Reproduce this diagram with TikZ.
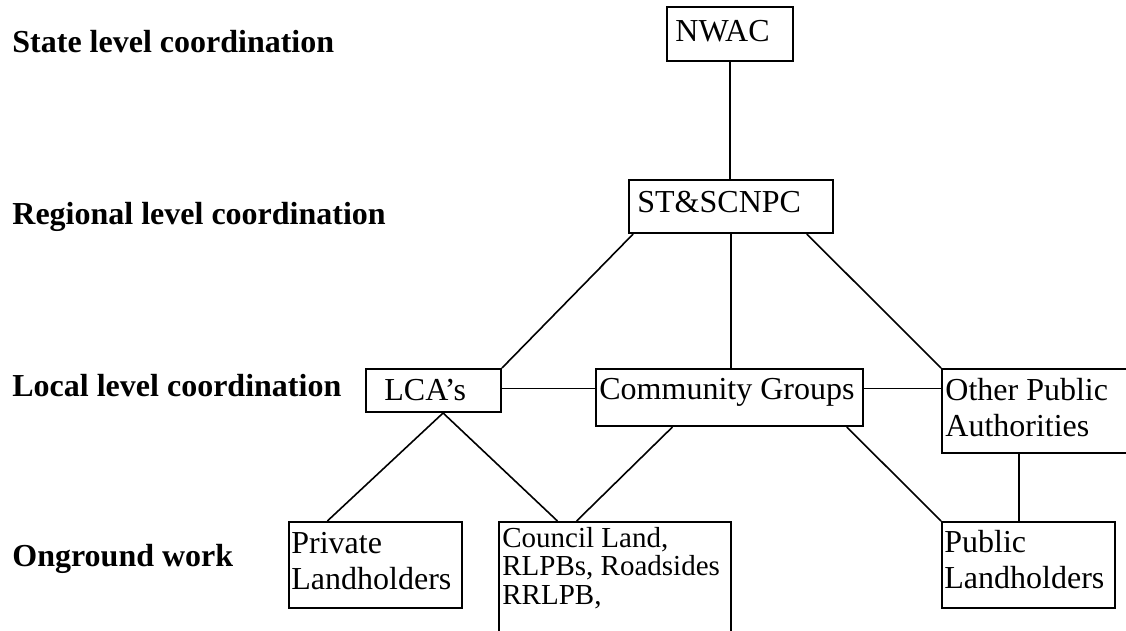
\documentclass[tikz,border=0pt]{standalone}
\usepackage{fontspec}
\setmainfont{Liberation Serif}
\usepackage{tikz}
\usetikzlibrary{calc}
\tikzstyle{box}=[rectangle, draw=black, line width=1pt, inner sep=0pt, anchor=center]
\tikzstyle{annot}=[align=left, inner sep=0pt, anchor=base west, font=\fontsize{16}{18}\selectfont]
\tikzstyle{level}=[annot, font=\fontsize{16}{18}\selectfont\bfseries]
\tikzstyle{link}=[line width=0.8pt]

\begin{document}
\begin{tikzpicture}[x=0.5pt, y=-0.5pt]
	\useasboundingbox (0,0) rectangle (1126,631);
	\clip (0,0) rectangle (1126,631);

	% levels
	\node[level] (statelbl) at (12,53) {State level coordination};
	\node[level] (reglbl) at (12,225) {Regional level coordination};
	\node[level] (loclbl) at (12,396) {Local level coordination};
	\node[level] (onglbl) at (12,566) {Onground work};

	\node[box, minimum width=63pt, minimum height=27pt](nwac) at (730,34){};
	\node[box, minimum width=102pt, minimum height=26.5pt](stsc) at (731,206.5){};
	\node[box, minimum width=67.5pt, minimum height=21.5pt](lca) at (433.5,390.5){};
	\node[box, minimum width=133.5pt, minimum height=28.5pt](comm) at (729.5,397.5){};
	\node[box, minimum width=95pt, minimum height=42pt](opa) at (1037,411){};
	\node[box, minimum width=86.5pt, minimum height=43pt](priv) at (375.5,565){};
	\node[box, minimum width=116pt, minimum height=59pt](council) at (615,581){};
	\node[box, minimum width=86.5pt, minimum height=43pt](pub) at (1028.5,565){};

	% base anchor sits on the last line
	\node[annot] (nwactxt) at (675,42) {NWAC};
	\node[annot] (stsctxt) at (637,213) {ST\&SCNPC};
	\node[annot] (lcatxt) at (384,400) {LCA’s};
	\node[annot] (commtxt) at (599,399) {Community Groups};
	\node[annot] (opatxt) at (945,436) {Other Public\\Authorities};
	\node[annot] (privtxt) at (291,589) {Private\\Landholders};
	\node[annot, font=\fontsize{14.5}{14.25}\selectfont] (counciltxt) at (502,604) {Council Land,\\RLPBs, Roadsides\\RRLPB,};
	\node[annot] (pubtxt) at (944,588) {Public\\Landholders};

	\draw[link] (nwac.south) -- (nwac.south |- stsc.north);
	\draw[link] ($(stsc.south west)!0.025!(stsc.south east)$) -- (lca.north east);
	\draw[link] (stsc.south) -- (stsc.south |- comm.north);
	\draw[link] ($(stsc.south west)!0.868!(stsc.south east)$) -- (opa.north west);
	\draw[link] ([yshift=1pt]lca.east) -- ([yshift=1pt]lca.east -| comm.west);
	\draw[link] ([yshift=1pt]lca.east -| comm.east) -- ([yshift=1pt]lca.east -| opa.west);

	\coordinate (lcafoot) at ($(lca.south west)!0.57!(lca.south east)$);
	\draw[link] (lcafoot) -- ($(priv.north west)!0.225!(priv.north east)$);
	\draw[link] (lcafoot) -- ($(council.north west)!0.254!(council.north east)$);
	\draw[link] ($(comm.south west)!0.288!(comm.south east)$) -- ($(council.north west)!0.336!(council.north east)$);
	\draw[link] ($(comm.south west)!0.936!(comm.south east)$) -- (pub.north west);
	\coordinate (pubtop) at ($(pub.north west)!0.445!(pub.north east)$);
	\draw[link] (pubtop |- opa.south) -- (pubtop);

\end{tikzpicture}
\end{document}
